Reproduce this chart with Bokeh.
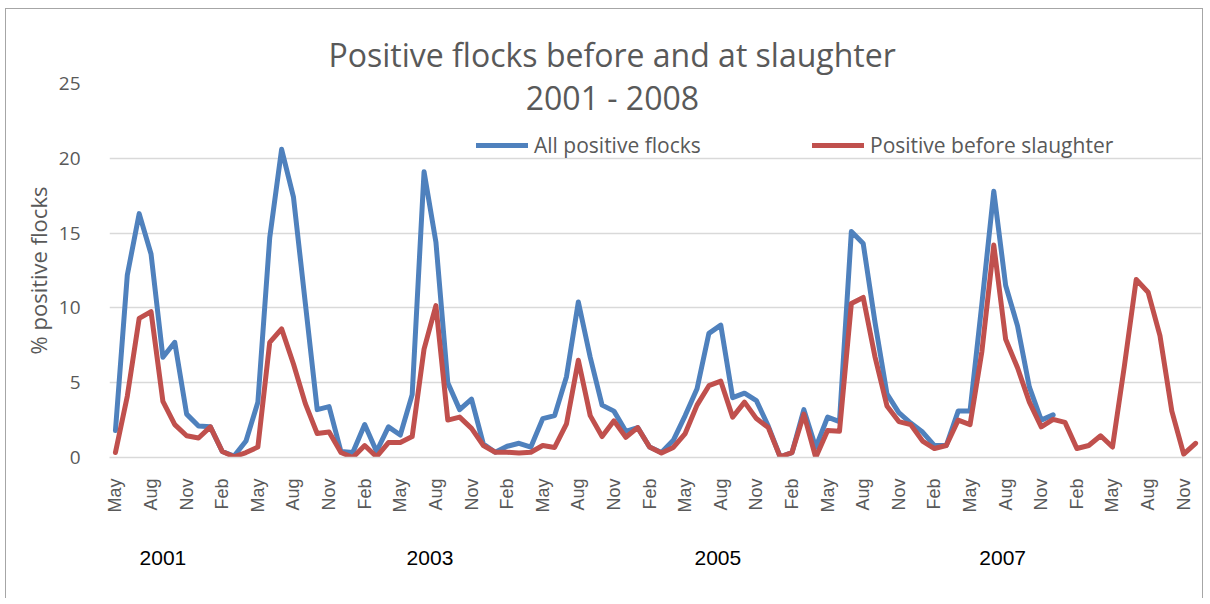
import math
from bokeh.plotting import figure
from bokeh.models import Range1d, FixedTicker, Label, Legend, LegendItem, LinearAxis
from bokeh.embed import file_html
from bokeh.resources import INLINE

# ---- data (monthly, May 2001 - Dec 2008) ----
all_positive = [1.8, 12.2, 16.3, 13.6, 6.7, 7.7, 2.9, 2.1, 2.05, 0.4,
                0.1, 1.1, 3.7, 14.7, 20.6, 17.4, 10.3, 3.2, 3.4, 0.4,
                0.33, 2.2, 0.4, 2.05, 1.5, 4.2, 19.1, 14.4, 5.0, 3.2,
                3.9, 0.9, 0.35, 0.75, 0.95, 0.7, 2.6, 2.8, 5.4, 10.4,
                6.7, 3.5, 3.1, 1.75, 2.0, 0.7, 0.33, 1.15, 2.8, 4.6,
                8.3, 8.85, 4.0, 4.3, 3.8, 2.1, 0.05, 0.33, 3.2, 0.67,
                2.7, 2.4, 15.1, 14.3, 9.0, 4.25, 3.0, 2.3, 1.7, 0.8,
                0.8, 3.1, 3.1, 10.3, 17.8, 11.5, 8.8, 4.7, 2.5, 2.85]

before_slaughter = [0.33, 4.1, 9.3, 9.75, 3.75, 2.2, 1.45, 1.3, 2.05, 0.4,
                    0.05, 0.33, 0.7, 7.7, 8.6, 6.25, 3.6, 1.6, 1.7, 0.33,
                    0.0, 0.8, 0.05, 1.0, 1.0, 1.4, 7.25, 10.15, 2.5, 2.7,
                    1.95, 0.8, 0.35, 0.35, 0.3, 0.35, 0.8, 0.67, 2.25, 6.5,
                    2.8, 1.4, 2.45, 1.35, 2.0, 0.7, 0.3, 0.67, 1.6, 3.5,
                    4.8, 5.1, 2.7, 3.7, 2.6, 2.0, 0.05, 0.33, 2.9, 0.0,
                    1.8, 1.75, 10.3, 10.7, 6.7, 3.45, 2.4, 2.2, 1.1, 0.6,
                    0.8, 2.5, 2.2, 7.1, 14.2, 7.9, 6.0, 3.7, 2.05, 2.55,
                    2.35, 0.6, 0.8, 1.45, 0.7, 6.1, 11.9, 11.05, 8.15, 3.1,
                    0.22, 0.95]

tick_labels = ["May", "Aug", "Nov", "Feb", "May", "Aug", "Nov", "Feb",
               "May", "Aug", "Nov", "Feb", "May", "Aug", "Nov", "Feb",
               "May", "Aug", "Nov", "Feb", "May", "Aug", "Nov", "Feb",
               "May", "Aug", "Nov", "Feb", "May", "Aug", "Nov"]
tick_step = 3

year_labels = ["2001", "2003", "2005", "2007"]
year_label_x = [4.0, 26.5, 50.75, 74.75]

y_ticks = [0, 5, 10, 15, 20, 25]

title_line1 = "Positive flocks before and at slaughter"
title_line2 = "2001 - 2008"

x_all = list(range(len(all_positive)))
x_before = list(range(len(before_slaughter)))
tick_pos = [i * tick_step for i in range(len(tick_labels))]

GRAY = "#595959"
BLUE = "#4F81BD"
RED = "#C0504D"

p = figure(width=1198, height=590,
           x_range=Range1d(-0.5, len(before_slaughter) - 0.5),
           y_range=Range1d(0, 25),
           output_backend="svg", toolbar_location=None,
           min_border_left=103, min_border_right=3,
           min_border_top=74, min_border_bottom=142)
p.styles = {"border-left": "1px solid #a6a6a6", "border-top": "1px solid #a6a6a6",
            "border-right": "1px solid #a6a6a6",
            "margin-left": "5px", "margin-top": "8px"}
p.outline_line_color = None
p.background_fill_color = "white"
p.border_fill_color = "white"

p.title.text = title_line1
p.title.align = "left"
p.title.offset = 219
p.title.text_font = "Open Sans"
p.title.text_font_size = "32px"
p.title.text_font_style = "normal"
p.title.text_color = GRAY
p.title.standoff = 16

p.xgrid.visible = False
p.ygrid.grid_line_color = "#d9d9d9"
p.ygrid.grid_line_width = 1.3
p.yaxis.ticker = FixedTicker(ticks=y_ticks)
p.yaxis.axis_line_color = None
p.yaxis.major_tick_line_color = None
p.yaxis.minor_tick_line_color = None
p.yaxis.major_label_text_font = "Open Sans"
p.yaxis.major_label_text_font_size = "19px"
p.yaxis.major_label_text_color = GRAY
p.yaxis.major_label_standoff = 23
p.yaxis.axis_label = "% positive flocks"
p.yaxis.axis_label_text_font = "Open Sans"
p.yaxis.axis_label_text_font_size = "22px"
p.yaxis.axis_label_text_font_style = "normal"
p.yaxis.axis_label_text_color = GRAY
p.yaxis.axis_label_standoff = 3

p.xaxis.ticker = FixedTicker(ticks=tick_pos)
p.xaxis.major_label_overrides = {tp: lab for tp, lab in zip(tick_pos, tick_labels)}
p.xaxis.axis_line_color = "#d9d9d9"
p.xaxis.axis_line_width = 1.3
p.xaxis.major_tick_line_color = None
p.xaxis.minor_tick_line_color = None
p.xaxis.major_label_orientation = math.pi / 2
p.xaxis.major_label_text_font = "Liberation Sans"
p.xaxis.major_label_text_font_size = "18px"
p.xaxis.major_label_text_color = GRAY
p.xaxis.major_label_standoff = 15

year_axis = LinearAxis(ticker=FixedTicker(ticks=year_label_x),
                       major_label_overrides={xx: t for xx, t in zip(year_label_x, year_labels)})
year_axis.axis_line_color = None
year_axis.major_tick_line_color = None
year_axis.minor_tick_line_color = None
year_axis.major_label_text_font = "Liberation Sans"
year_axis.major_label_text_font_size = "21px"
year_axis.major_label_text_color = "black"
year_axis.major_label_standoff = 29
p.add_layout(year_axis, "below")

r_all = p.line(x_all, all_positive, line_color=BLUE, line_width=5,
               line_join="round", line_cap="round")
r_bef = p.line(x_before, before_slaughter, line_color=RED, line_width=5,
               line_join="round", line_cap="round")

legend = Legend(items=[LegendItem(label="All positive flocks", renderers=[r_all]),
                       LegendItem(label="Positive before slaughter", renderers=[r_bef])],
                orientation="horizontal", location=(367, 298))
legend.glyph_width = 52
legend.glyph_height = 20
legend.label_height = 20
legend.label_standoff = 6
legend.label_width = 270
legend.spacing = 8
legend.padding = 0
legend.margin = 0
legend.border_line_color = None
legend.background_fill_alpha = 0
legend.label_text_font = "Open Sans"
legend.label_text_font_size = "21px"
legend.label_text_color = GRAY
legend.label_text_baseline = "middle"
p.add_layout(legend)

p.add_layout(Label(x=41.87, y=24.06, text=title_line2,
                   text_align="center", text_baseline="middle",
                   text_font="Open Sans", text_font_size="32px", text_color=GRAY))

open("out.html", "w").write(file_html(p, INLINE))
